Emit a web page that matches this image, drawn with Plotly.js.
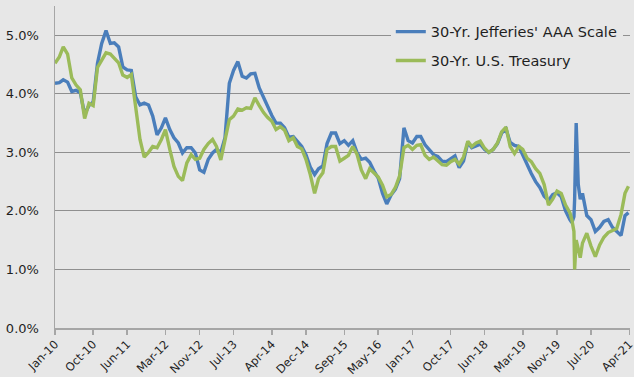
<!DOCTYPE html>
<html>
<head>
<meta charset="utf-8">
<script src="https://cdn.plot.ly/plotly-3.0.1.min.js"></script>
<style>
  html, body { margin: 0; padding: 0; background: #e7e7e7; }
  #chart { width: 634px; height: 377px; }
</style>
</head>
<body>
<div id="chart"></div>
<script>
// Observation dates (month starts, plus a few extra points around March 2020)
const dates = [
  "2010-01","2010-02","2010-03","2010-04","2010-05","2010-06","2010-07","2010-08","2010-09","2010-10","2010-11","2010-12",
  "2011-01","2011-02","2011-03","2011-04","2011-05","2011-06","2011-07","2011-08","2011-09","2011-10","2011-11","2011-12",
  "2012-01","2012-02","2012-03","2012-04","2012-05","2012-06","2012-07","2012-08","2012-09","2012-10","2012-11","2012-12",
  "2013-01","2013-02","2013-03","2013-04","2013-05","2013-06","2013-07","2013-08","2013-09","2013-10","2013-11","2013-12",
  "2014-01","2014-02","2014-03","2014-04","2014-05","2014-06","2014-07","2014-08","2014-09","2014-10","2014-11","2014-12",
  "2015-01","2015-02","2015-03","2015-04","2015-05","2015-06","2015-07","2015-08","2015-09","2015-10","2015-11","2015-12",
  "2016-01","2016-02","2016-03","2016-04","2016-05","2016-06","2016-07","2016-08","2016-09","2016-10","2016-11","2016-12",
  "2017-01","2017-02","2017-03","2017-04","2017-05","2017-06","2017-07","2017-08","2017-09","2017-10","2017-11","2017-12",
  "2018-01","2018-02","2018-03","2018-04","2018-05","2018-06","2018-07","2018-08","2018-09","2018-10","2018-11","2018-12",
  "2019-01","2019-02","2019-03","2019-04","2019-05","2019-06","2019-07","2019-08","2019-09","2019-10","2019-11","2019-12",
  "2020-01","2020-02","2020-02-15","2020-03","2020-03-06","2020-03-17","2020-04","2020-04-15","2020-05","2020-06",
  "2020-07","2020-08","2020-09","2020-10","2020-11","2020-12",
  "2021-01","2021-02","2021-03","2021-03-26"
];

// 30-Yr. Jefferies' AAA Scale yield (%)
const aaaScale = [
  4.18, 4.19, 4.24, 4.20, 4.04, 4.06, 4.02, 3.65, 3.80, 3.86, 4.52, 4.86,
  5.08, 4.86, 4.87, 4.80, 4.46, 4.41, 4.40, 3.95, 3.81, 3.84, 3.81, 3.62,
  3.30, 3.42, 3.59, 3.39, 3.25, 3.16, 2.99, 3.08, 3.08, 2.99, 2.70, 2.66,
  2.88, 2.99, 3.05, 3.00, 3.25, 4.18, 4.40, 4.55, 4.30, 4.27, 4.34, 4.35,
  4.10, 3.93, 3.78, 3.63, 3.50, 3.50, 3.42, 3.26, 3.27, 3.18, 3.10, 2.96,
  2.75, 2.62, 2.72, 2.77, 3.15, 3.33, 3.33, 3.15, 3.20, 3.12, 3.20, 3.00,
  2.88, 2.90, 2.83, 2.68, 2.56, 2.30, 2.12, 2.27, 2.37, 2.55, 3.42, 3.20,
  3.16, 3.27, 3.27, 3.13, 3.05, 2.96, 2.93, 2.85, 2.84, 2.89, 2.94, 2.74,
  2.85, 3.17, 3.08, 3.11, 3.14, 3.05, 3.00, 3.05, 3.15, 3.33, 3.40, 3.17,
  3.12, 3.10, 2.95, 2.78, 2.64, 2.50, 2.40, 2.25, 2.18, 2.28, 2.31, 2.24,
  2.00, 1.85, 1.80, 1.90, 2.20, 3.50, 2.45, 2.20, 2.30, 1.92,
  1.85, 1.65, 1.72, 1.82, 1.85, 1.72,
  1.65, 1.58, 1.92, 1.97
];

// 30-Yr. U.S. Treasury yield (%)
const treasury = [
  4.52, 4.63, 4.80, 4.68, 4.27, 4.15, 4.07, 3.58, 3.84, 3.80, 4.45, 4.56,
  4.70, 4.68, 4.60, 4.53, 4.32, 4.28, 4.33, 3.78, 3.22, 2.92, 3.00, 3.10,
  3.08, 3.22, 3.39, 3.05, 2.76, 2.59, 2.52, 2.82, 2.96, 2.88, 2.90, 3.05,
  3.15, 3.22, 3.10, 2.87, 3.20, 3.56, 3.62, 3.74, 3.72, 3.76, 3.75, 3.93,
  3.80, 3.68, 3.60, 3.53, 3.39, 3.44, 3.38, 3.20, 3.25, 3.10, 3.06, 2.88,
  2.62, 2.30, 2.55, 2.65, 3.05, 3.10, 3.10, 2.85, 2.90, 2.95, 3.10, 2.97,
  2.70, 2.55, 2.72, 2.65, 2.58, 2.44, 2.24, 2.28, 2.40, 2.60, 3.08, 3.12,
  3.05, 3.12, 3.13, 2.95, 2.88, 2.92, 2.86, 2.79, 2.78, 2.84, 2.88, 2.80,
  2.92, 3.19, 3.10, 3.16, 3.19, 3.07, 3.00, 3.05, 3.16, 3.35, 3.43, 3.10,
  2.98, 3.10, 3.05, 2.90, 2.84, 2.72, 2.64, 2.45, 2.10, 2.20, 2.34, 2.30,
  2.10, 1.97, 1.85, 1.65, 1.00, 1.50, 1.35, 1.20, 1.45, 1.62,
  1.40, 1.22, 1.42, 1.55, 1.63, 1.66,
  1.70, 1.94, 2.30, 2.42
];

// Axis ticks
const tickDates = [
  "2010-01-01","2010-10-01","2011-06-01","2012-03-01","2012-11-01","2013-07-01",
  "2014-04-01","2014-12-01","2015-09-01","2016-05-01","2017-01-01","2017-10-01",
  "2018-06-01","2019-03-01","2019-11-01","2020-07-01","2021-04-01"
];
const tickLabels = [
  "Jan-10","Oct-10","Jun-11","Mar-12","Nov-12","Jul-13","Apr-14","Dec-14","Sep-15",
  "May-16","Jan-17","Oct-17","Jun-18","Mar-19","Nov-19","Jul-20","Apr-21"
];
const yTicks = [0, 1, 2, 3, 4, 5];
const yTickLabels = ["0.0%", "1.0%", "2.0%", "3.0%", "4.0%", "5.0%"];

const bg = "#e7e7e7";
const axisGray = "#a6a6a6";
const textColor = "#1f1f1f";

const traces = [
  {
    x: dates, y: aaaScale, type: "scatter", mode: "lines",
    name: "30-Yr. Jefferies' AAA Scale", legendgroup: "aaa",
    line: { color: "#4a7ebb", width: 3.4 }
  },
  {
    x: dates, y: treasury, type: "scatter", mode: "lines",
    name: "30-Yr. U.S. Treasury", legendgroup: "ust",
    line: { color: "#9bbb59", width: 3.4 }
  }
];

const layout = {
  width: 634, height: 377,
  margin: { l: 55, r: 4, t: 6, b: 49 },
  paper_bgcolor: bg, plot_bgcolor: bg,
  font: { family: "DejaVu Sans, Verdana, sans-serif", color: textColor },
  showlegend: true,
  legend: {
    x: 0.584, y: 0.97, xanchor: "left", yanchor: "top",
    bgcolor: bg, borderwidth: 0,
    font: { size: 14.5, color: textColor },
    tracegroupgap: 7
  },
  xaxis: {
    type: "date",
    range: ["2010-01-01", "2021-04-06"],
    tickmode: "array", tickvals: tickDates, ticktext: tickLabels,
    tickangle: -45, ticks: "outside", ticklen: 5, tickcolor: axisGray, tickwidth: 1.5,
    ticklabelstandoff: -2, ticklabeloverflow: "allow",
    tickfont: { size: 11.5, color: textColor },
    showgrid: false, zeroline: false,
    showline: true, linecolor: axisGray, linewidth: 2
  },
  yaxis: {
    range: [0, 5.5],
    tickmode: "array", tickvals: yTicks, ticktext: yTickLabels,
    tickfont: { size: 13, color: textColor },
    ticks: "", ticklabelstandoff: 12,
    showgrid: true, gridcolor: "#8f8f8f", gridwidth: 1,
    zeroline: false,
    showline: true, linecolor: axisGray, linewidth: 1.5
  }
};

Plotly.newPlot("chart", traces, layout, { displayModeBar: false, staticPlot: true });
</script>
</body>
</html>
